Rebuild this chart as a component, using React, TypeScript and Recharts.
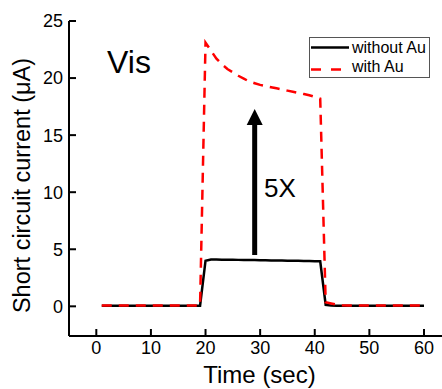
import React from 'react';
import { LineChart, Line, XAxis, YAxis, ReferenceLine } from 'recharts';

const FONT = '"Liberation Sans", Arial, sans-serif';

// time in seconds
const time = [
  1, 2, 3, 4, 5, 6, 7, 8, 9, 10, 11, 12, 13, 14, 15, 16, 17, 18, 19, 20,
  21, 22, 23, 24, 25, 26, 27, 28, 29, 30, 31, 32, 33, 34, 35, 36, 37, 38, 39, 40,
  41, 42, 43, 44, 45, 46, 47, 48, 49, 50, 51, 52, 53, 54, 55, 56, 57, 58, 59, 60,
];

// short circuit current (uA)
const withoutAu = [
  0.05, 0.05, 0.05, 0.05, 0.05, 0.05, 0.05, 0.05, 0.05, 0.05, 0.05, 0.05, 0.05, 0.05, 0.05, 0.05, 0.05, 0.05, 0.05, 4.0,
  4.1, 4.1, 4.09, 4.08, 4.08, 4.07, 4.06, 4.05, 4.05, 4.04, 4.03, 4.02, 4.02, 4.01, 4.0, 3.99, 3.99, 3.98, 3.97, 3.96,
  3.95, 0.12, 0.08, 0.06, 0.05, 0.05, 0.05, 0.05, 0.05, 0.05, 0.05, 0.05, 0.05, 0.05, 0.05, 0.05, 0.05, 0.05, 0.05, 0.05,
];

const withAu = [
  0.08, 0.08, 0.08, 0.08, 0.08, 0.08, 0.08, 0.08, 0.08, 0.08, 0.08, 0.08, 0.08, 0.08, 0.08, 0.08, 0.08, 0.08, 0.08, 23.1,
  22.4, 21.7, 21.2, 20.8, 20.5, 20.2, 19.95, 19.7, 19.55, 19.4, 19.3, 19.2, 19.1, 19.0, 18.9, 18.8, 18.7, 18.6, 18.5, 18.35,
  18.2, 0.35, 0.25, 0.15, 0.1, 0.08, 0.08, 0.08, 0.08, 0.08, 0.08, 0.08, 0.08, 0.08, 0.08, 0.08, 0.08, 0.08, 0.08, 0.08,
];

const xTicks = [0, 10, 20, 30, 40, 50, 60];
const yTicks = [0, 5, 10, 15, 20, 25];
const yMinorTicks = [2.5, 7.5, 12.5, 17.5, 22.5];

// enhancement arrow (x, from, to)
const arrowX = 29;
const arrowFrom = 4.5;
const arrowTo = 17.3;

const data = time.map((t, i) => ({ t, without: withoutAu[i], withAu: withAu[i] }));

const axisLine = { stroke: '#000', strokeWidth: 2 };
const tickLine = { stroke: '#000', strokeWidth: 2 };

function Arrow(props: any) {
  const { x1, y1, x2, y2 } = props;
  const head = 16;
  const half = 8;
  return (
    <g>
      <line x1={x1} y1={y1} x2={x2} y2={y2 + head - 1} stroke="#000" strokeWidth={5} />
      <polygon points={`${x2},${y2} ${x2 - half},${y2 + head} ${x2 + half},${y2 + head}`} fill="#000" />
    </g>
  );
}

export default function App() {
  return (
    <div style={{ position: 'absolute', left: 0, top: 0, width: 442, height: 389, fontFamily: FONT, background: '#fff' }}>
      <LineChart width={442} height={389} data={data} margin={{ top: 21, right: 0, bottom: 0, left: 0 }}>
        <XAxis
          xAxisId="x"
          dataKey="t"
          type="number"
          domain={[-5, 63.3]}
          allowDataOverflow
          ticks={xTicks}
          height={53}
          axisLine={axisLine}
          tickLine={tickLine}
          tickSize={-7}
          tickMargin={12}
          tick={{ fill: '#000', fontSize: 18, fontFamily: FONT }}
          label={{ value: 'Time (sec)', position: 'insideBottom', offset: 6, dx: 4, style: { fill: '#000', fontSize: 24, fontFamily: FONT } }}
        />
        <XAxis
          xAxisId="top"
          orientation="top"
          dataKey="t"
          type="number"
          domain={[-5, 63.3]}
          allowDataOverflow
          ticks={xTicks}
          height={0}
          axisLine={axisLine}
          tickLine={tickLine}
          tickSize={-7}
          tickFormatter={() => ''}
        />
        <YAxis
          yAxisId="minor"
          type="number"
          domain={[-2.6, 25]}
          allowDataOverflow
          ticks={yMinorTicks}
          width={0}
          axisLine={false}
          tickLine={tickLine}
          tickSize={-4}
          tickFormatter={() => ''}
        />
        <YAxis
          yAxisId="y"
          type="number"
          domain={[-2.6, 25]}
          allowDataOverflow
          ticks={yTicks}
          width={69}
          axisLine={axisLine}
          tickLine={tickLine}
          tickSize={-7}
          tickMargin={13}
          tick={{ fill: '#000', fontSize: 18, fontFamily: FONT }}
          label={{
            value: 'Short circuit current (\u03bcA)',
            angle: -90,
            position: 'insideLeft',
            dx: 17,
            dy: 7,
            style: { fill: '#000', fontSize: 23.5, fontFamily: FONT, textAnchor: 'middle' },
          }}
        />
        <Line
          xAxisId="x"
          yAxisId="y"
          type="linear"
          dataKey="without"
          name="without Au"
          stroke="#000"
          strokeWidth={2.5}
          dot={false}
          isAnimationActive={false}
        />
        <Line
          xAxisId="x"
          yAxisId="y"
          type="linear"
          dataKey="withAu"
          name="with Au"
          stroke="#ff0000"
          strokeWidth={2.5}
          strokeDasharray="10 7"
          dot={false}
          isAnimationActive={false}
        />
        <ReferenceLine
          xAxisId="x"
          yAxisId="y"
          segment={[{ x: arrowX, y: arrowFrom }, { x: arrowX, y: arrowTo }]}
          ifOverflow="visible"
          shape={Arrow}
        />
      </LineChart>

      <div style={{ position: 'absolute', left: 107, top: 46, fontSize: 32, lineHeight: 1, color: '#000' }}>Vis</div>
      <div style={{ position: 'absolute', left: 264, top: 175, fontSize: 26, lineHeight: 1, color: '#000' }}>5X</div>

      <div
        style={{
          position: 'absolute',
          left: 309,
          top: 37,
          width: 121,
          height: 41,
          boxSizing: 'border-box',
          border: '1.5px solid #555',
          background: '#fff',
          fontSize: 16,
          color: '#000',
        }}
      >
        <svg width={42} height={40} style={{ position: 'absolute', left: 0, top: 0 }}>
          <line x1={1} y1={9.5} x2={39} y2={9.5} stroke="#000" strokeWidth={2.5} />
          <line x1={1} y1={31.5} x2={32} y2={31.5} stroke="#ff0000" strokeWidth={2.5} strokeDasharray="10 10" />
        </svg>
        <div style={{ position: 'absolute', left: 42, top: 1, lineHeight: '18px', whiteSpace: 'nowrap' }}>without Au</div>
        <div style={{ position: 'absolute', left: 42, top: 20, lineHeight: '18px', whiteSpace: 'nowrap' }}>with Au</div>
      </div>
    </div>
  );
}
